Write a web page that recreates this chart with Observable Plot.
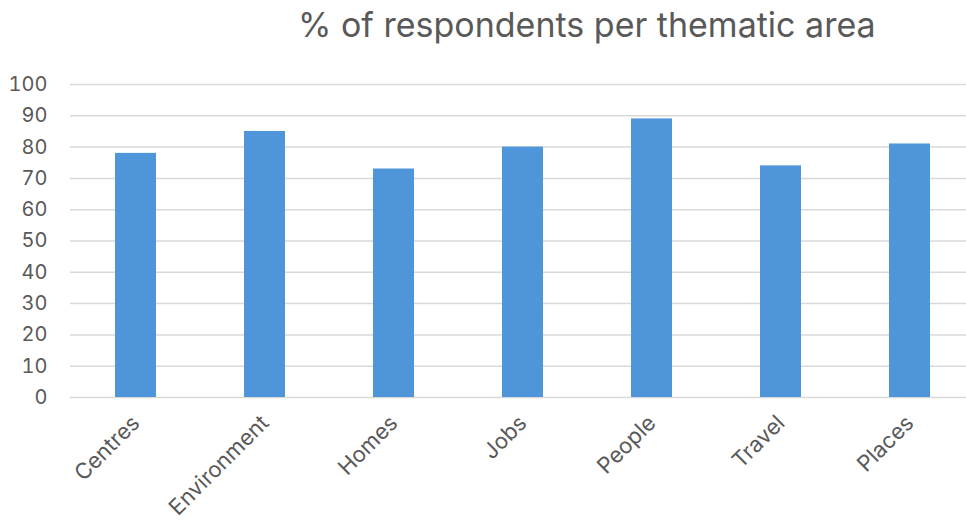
<!DOCTYPE html>
<html>
<head>
<meta charset="utf-8">
<script src="https://cdn.jsdelivr.net/npm/d3@7"></script>
<script src="https://cdn.jsdelivr.net/npm/@observablehq/plot@0.6"></script>
<style>
  html, body { margin: 0; padding: 0; background: #fff; }
  #title { height: 50px; box-sizing: border-box; padding-left: 298px; padding-top: 5px;
           font-family: Inter, "Open Sans", sans-serif; font-size: 34px; line-height: 40px; color: #595959; white-space: nowrap; }
  #chart svg { display: block; }
</style>
</head>
<body>
<div id="title">% of respondents per thematic area</div>
<div id="chart"></div>
<script>
const categories = ["Centres", "Environment", "Homes", "Jobs", "People", "Travel", "Places"];
const values = [78, 85, 73, 80, 89, 74, 81];
const yTicks = [0, 10, 20, 30, 40, 50, 60, 70, 80, 90, 100];

const data = categories.map((c, i) => ({category: c, value: values[i]}));

const chart = Plot.plot({
  width: 966,
  height: 471,
  marginTop: 34,
  marginBottom: 124,
  marginLeft: 70,
  marginRight: 0,
  style: {fontFamily: "Inter, 'Open Sans', sans-serif", fontSize: "20px", color: "#595959", background: "#fff"},
  x: {domain: categories, range: [70, 975], paddingInner: 0.68, paddingOuter: 0.34, label: null},
  y: {domain: [0, 100], ticks: yTicks, label: null},
  marks: [
    Plot.gridY(yTicks, {stroke: "#d9d9d9", strokeOpacity: 1, strokeWidth: 1.5}),
    Plot.barY(data, {x: "category", y: "value", fill: "#4e95d9"}),
    Plot.axisY(yTicks, {tickSize: 0, tickPadding: 23, fontSize: 20, fill: "#595959", label: null}),
    Plot.axisX({tickSize: 0, tickRotate: -45, tickPadding: 22, fontSize: 22, fill: "#595959", label: null})
  ]
});
document.getElementById("chart").appendChild(chart);
</script>
</body>
</html>
